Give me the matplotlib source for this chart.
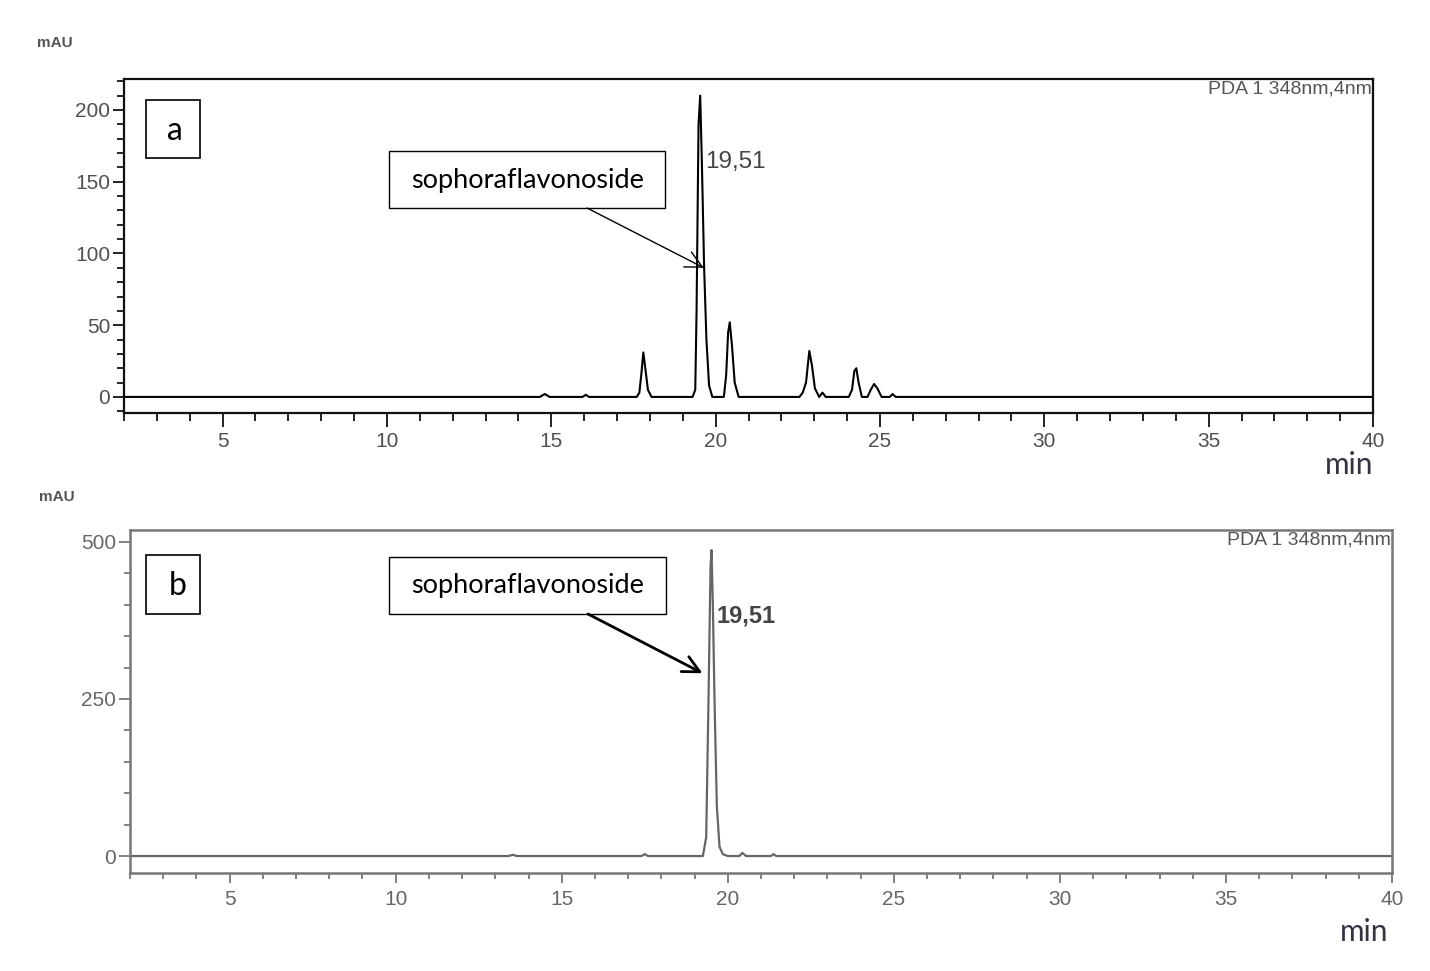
import matplotlib
matplotlib.use("Agg")
import matplotlib.pyplot as plt
from matplotlib.patches import Rectangle
from matplotlib.ticker import MultipleLocator

# ---- data ----
# panel a: chromatogram vertices (time in min, signal in mAU)
time_a = [2.0, 14.65, 14.8, 14.95, 15.95, 16.05, 16.15,
          17.6, 17.68, 17.74, 17.8, 17.86, 17.94, 18.05,
          19.3, 19.38, 19.42, 19.48, 19.53, 19.58, 19.65, 19.72, 19.8, 19.9,
          20.25, 20.32, 20.38, 20.43, 20.5, 20.58, 20.7,
          22.55, 22.65, 22.75, 22.85, 22.93, 23.02, 23.15, 23.25, 23.35,
          24.05, 24.15, 24.22, 24.28, 24.35, 24.45,
          24.62, 24.72, 24.82, 24.92, 25.05,
          25.3, 25.38, 25.48, 40.0]
signal_a = [0, 0, 2, 0, 0, 1.5, 0,
            0, 3, 16, 31, 20, 5, 0,
            0, 5, 60, 190, 210, 165, 90, 40, 8, 0,
            0, 15, 45, 52, 35, 10, 0,
            0, 3, 10, 32, 22, 6, 0, 3, 0,
            0, 5, 18, 20, 10, 0,
            0, 5, 9, 6, 0,
            0, 2, 0, 0]

# panel b
time_b = [2.0, 13.4, 13.53, 13.65, 17.4, 17.5, 17.6,
          19.25, 19.35, 19.42, 19.48, 19.51, 19.55, 19.6, 19.67, 19.75, 19.85, 20.0,
          20.35, 20.44, 20.55, 21.3, 21.38, 21.46, 40.0]
signal_b = [0, 0, 2, 0, 0, 3, 0,
            0, 30, 250, 460, 487, 400, 250, 80, 15, 3, 0,
            0, 5, 0, 0, 3, 0, 0]

peak_label = "19,51"
compound = "sophoraflavonoside"
detector = "PDA 1 348nm,4nm"

W, H = 1430, 971
fig = plt.figure(figsize=(W / 100, H / 100), dpi=100)

def pos(x0, y0, x1, y1):
    return [x0 / W, 1 - y1 / H, (x1 - x0) / W, (y1 - y0) / H]

TICK_FS = 15

# ---------------- panel a ----------------
ca = "#111111"
ax = fig.add_axes(pos(124, 79, 1373, 413))
ax.plot(time_a, signal_a, color="black", lw=1.5)
ax.set_xlim(2, 40)
ax.set_ylim(-11.2, 221.6)
ax.set_xticks([5, 10, 15, 20, 25, 30, 35, 40])
ax.set_yticks([0, 50, 100, 150, 200])
ax.xaxis.set_minor_locator(MultipleLocator(1))
ax.yaxis.set_minor_locator(MultipleLocator(10))
for s in ax.spines.values():
    s.set_linewidth(1.6)
    s.set_color(ca)
ax.tick_params(which="major", direction="out", length=8, width=1.3, color=ca,
               labelcolor="#505050", pad=2)
ax.tick_params(which="minor", direction="out", length=5, width=1.3, color=ca)
ax.tick_params(axis="x", which="major", length=10, pad=4)
ax.tick_params(axis="x", which="minor", length=6)
for lab in ax.get_xticklabels() + ax.get_yticklabels():
    lab.set_fontfamily("Liberation Sans")
    lab.set_fontsize(TICK_FS)

ax.text(0.999, 0.995, detector, transform=ax.transAxes, ha="right", va="top",
        fontsize=14, family="Liberation Sans", color="#555555")
ax.text(19.67, 163.8, peak_label, ha="left", va="center", fontsize=17.5,
        family="Liberation Sans", color="#444444")
ax.add_patch(Rectangle((0.0176, 0.7635), 0.0432, 0.1737, transform=ax.transAxes,
                       fill=False, lw=1.2, ec="black"))
ax.text(0.0405, 0.845, "a", transform=ax.transAxes, ha="center", va="center",
        fontsize=23, family="Lato", color="black")
ax.add_patch(Rectangle((0.2122, 0.6138), 0.221, 0.1707, transform=ax.transAxes,
                       fill=False, lw=1.0, ec="black", zorder=5))
ax.text(0.3227, 0.6976, compound, transform=ax.transAxes, ha="center", va="center",
        fontsize=19.5, family="Lato", color="black")
ax.annotate("", xy=(19.64, 90), xycoords="data",
            xytext=(0.3707, 0.6138), textcoords="axes fraction",
            arrowprops=dict(arrowstyle="->", lw=1.0, color="black",
                            mutation_scale=30, shrinkA=0, shrinkB=0))

fig.text(55 / W, 1 - 43 / H, "mAU", ha="center", va="center", fontsize=11,
         family="Liberation Sans", color="#555555", fontweight="bold")
fig.text(1373 / W, 1 - 465 / H, "min", ha="right", va="center", fontsize=21.5,
         family="Lato", color="#333344")

# ---------------- panel b ----------------
cb = "#777777"
bx = fig.add_axes(pos(130, 530, 1392, 873))
bx.plot(time_b, signal_b, color="#666666", lw=1.6)
bx.set_xlim(2, 40)
bx.set_ylim(-27, 519)
bx.set_xticks([5, 10, 15, 20, 25, 30, 35, 40])
bx.set_yticks([0, 250, 500])
bx.xaxis.set_minor_locator(MultipleLocator(1))
bx.yaxis.set_minor_locator(MultipleLocator(50))
for s in bx.spines.values():
    s.set_linewidth(1.8)
    s.set_color(cb)
bx.tick_params(which="major", direction="out", length=8, width=1.3, color=cb,
               labelcolor="#666666", pad=2)
bx.tick_params(which="minor", direction="out", length=4, width=1.3, color=cb)
bx.tick_params(axis="x", which="major", length=7, pad=5)
bx.tick_params(axis="x", which="minor", length=4)
for lab in bx.get_xticklabels() + bx.get_yticklabels():
    lab.set_fontfamily("Liberation Sans")
    lab.set_fontsize(TICK_FS)

bx.text(0.999, 0.995, detector, transform=bx.transAxes, ha="right", va="top",
        fontsize=14, family="Liberation Sans", color="#555555")
bx.text(19.66, 382, peak_label, ha="left", va="center", fontsize=17,
        family="Liberation Sans", color="#444444", fontweight="bold")
bx.add_patch(Rectangle((0.0127, 0.7551), 0.0428, 0.172, transform=bx.transAxes,
                       fill=False, lw=1.2, ec="black"))
bx.text(0.038, 0.836, "b", transform=bx.transAxes, ha="center", va="center",
        fontsize=23, family="Lato", color="black")
bx.add_patch(Rectangle((0.2052, 0.7551), 0.2195, 0.1662, transform=bx.transAxes,
                       fill=False, lw=1.0, ec="black", zorder=5))
bx.text(0.315, 0.838, compound, transform=bx.transAxes, ha="center", va="center",
        fontsize=19.5, family="Lato", color="black")
bx.annotate("", xy=(19.24, 291), xycoords="data",
            xytext=(0.3629, 0.7551), textcoords="axes fraction",
            arrowprops=dict(arrowstyle="->", lw=2.0, color="black",
                            mutation_scale=30, shrinkA=0, shrinkB=0))

fig.text(57 / W, 1 - 497 / H, "mAU", ha="center", va="center", fontsize=11,
         family="Liberation Sans", color="#555555", fontweight="bold")
fig.text(1388 / W, 1 - 932 / H, "min", ha="right", va="center", fontsize=21.5,
         family="Lato", color="#333344")

fig.savefig("out.png", dpi=100, facecolor="white")
